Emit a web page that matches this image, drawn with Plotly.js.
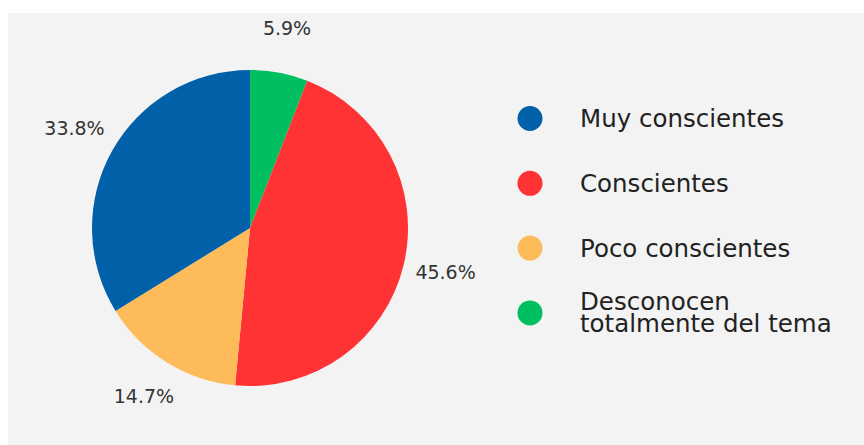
<!DOCTYPE html>
<html>
<head>
<meta charset="utf-8">
<script src="https://cdn.plot.ly/plotly-3.0.1.min.js"></script>
<style>html,body{margin:0;padding:0;background:#fff;}#chart{width:864px;height:445px;}</style>
</head>
<body>
<div id="chart"></div>
<script>
// Data (legend order)
const categories = ['Muy conscientes', 'Conscientes', 'Poco conscientes', 'Desconocen<br>totalmente del tema'];
const values = [33.8, 45.6, 14.7, 5.9];
const colors = ['#0060A8', '#FF3334', '#FDBC59', '#00BF61'];
// Order in which the slices run clockwise from 12 o'clock
const sliceOrder = [3, 1, 2, 0];

const W = 864, H = 445;
const px = x => x / W;
const py = y => 1 - y / H;
const font = 'DejaVu Sans, sans-serif';

const cx = 250, cy = 228, R = 158, Rlab = 201;

const sVals = sliceOrder.map(i => values[i]);
const total = sVals.reduce((a, b) => a + b, 0);

const pie = {
  type: 'pie',
  labels: sliceOrder.map(i => categories[i]),
  values: sVals,
  marker: {colors: sliceOrder.map(i => colors[i]), line: {width: 0}},
  sort: false,
  direction: 'clockwise',
  rotation: 0,
  textinfo: 'none',
  hoverinfo: 'label+value',
  showlegend: false,
  domain: {x: [px(cx - R), px(cx + R)], y: [py(cy + R), py(cy - R)]}
};

// percentage labels: placed at each slice's mid-angle on a hidden polar subplot
let acc = 0;
const midTheta = sVals.map(v => { const t = (acc + v / 2) / total * 360; acc += v; return t; });
const labelTrace = {
  type: 'scatterpolar',
  mode: 'text',
  r: sVals.map(() => 1),
  theta: midTheta,
  text: sVals.map(v => v.toFixed(1) + '%'),
  textposition: 'middle center',
  textfont: {family: font, size: 19, color: '#333333'},
  cliponaxis: false,
  hoverinfo: 'skip',
  showlegend: false,
  subplot: 'polar'
};

const shapes = [{
  type: 'rect', xref: 'paper', yref: 'paper', layer: 'below',
  x0: px(8), x1: 1, y0: 0, y1: py(13),
  fillcolor: '#F3F3F3', line: {width: 0}
}];
const annotations = [];
const legX = 530, legY0 = 118.5, legStep = 64.8, r = 12.5, textX = 578, lineGap = 22;
categories.forEach((c, i) => {
  const ly = legY0 + i * legStep;
  shapes.push({
    type: 'circle', xref: 'paper', yref: 'paper',
    x0: px(legX - r), x1: px(legX + r), y0: py(ly + r), y1: py(ly - r),
    fillcolor: colors[i], line: {width: 0}
  });
  const lines = c.split('<br>');
  lines.forEach((t, k) => {
    const ty = ly + (k - (lines.length - 1) / 2) * lineGap;
    annotations.push({
      xref: 'paper', yref: 'paper', x: px(textX), y: py(ty),
      xanchor: 'left', yanchor: 'middle', showarrow: false,
      text: t, font: {family: font, size: 24.5, color: '#222222'}
    });
  });
});

const layout = {
  width: W, height: H,
  margin: {l: 0, r: 0, t: 0, b: 0},
  paper_bgcolor: '#FFFFFF',
  showlegend: false,
  polar: {
    domain: {x: [px(cx - Rlab), px(cx + Rlab)], y: [py(cy + Rlab), py(cy - Rlab)]},
    bgcolor: 'rgba(0,0,0,0)',
    radialaxis: {visible: false, range: [0, 1]},
    angularaxis: {visible: false, rotation: 90, direction: 'clockwise'}
  },
  shapes: shapes,
  annotations: annotations
};

Plotly.newPlot('chart', [pie, labelTrace], layout, {displayModeBar: false, staticPlot: true});
</script>
</body>
</html>
